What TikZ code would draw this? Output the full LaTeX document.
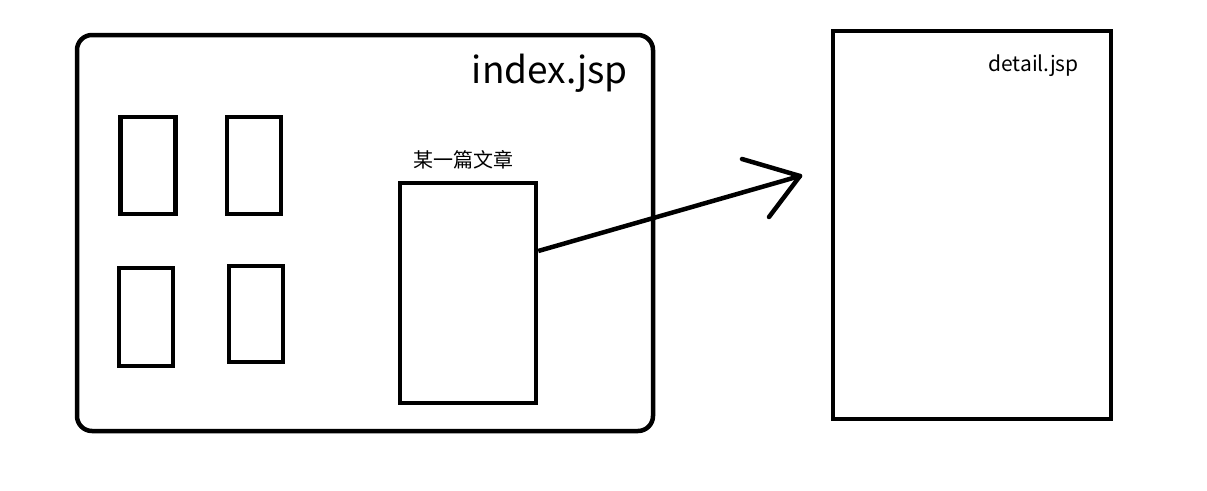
\documentclass[tikz,border=0pt]{standalone}
\usepackage{fontspec}
\setmainfont{Noto Sans CJK SC}
\usetikzlibrary{calc}
\begin{document}
\begin{tikzpicture}[x=1pt,y=-1pt,
  page/.style={draw=black,line width=4.5pt,inner sep=0pt},
  conn/.style={draw=black,line width=4.5pt,line cap=round,line join=round}]
\useasboundingbox[fill=white] (0,0) rectangle (1207,490);
% outer index page
\node[page,rounded corners=15pt,minimum width=576pt,minimum height=396pt] (index) at (365,233) {};
\node[anchor=base east,font=\fontsize{37}{40}\selectfont,inner sep=0pt] (indexlbl) at (628,83) {index.jsp};
% small boxes
\node[page,minimum width=55pt,minimum height=97pt] (b1) at (148,165.5) {};
\node[page,minimum width=54pt,minimum height=97pt] (b2) at (254,165.5) {};
\node[page,minimum width=54pt,minimum height=98pt] (b3) at (146,317) {};
\node[page,minimum width=54pt,minimum height=96pt] (b4) at (256,314) {};
% article box
\node[page,minimum width=136pt,minimum height=220pt] (art) at (468,293) {};
\node[anchor=base,font=\fontsize{20}{22}\selectfont,inner sep=0pt] (artlbl) at (463,167) {某一篇文章};
% detail page
\node[page,minimum width=278pt,minimum height=388pt] (detail) at (972,225) {};
\node[anchor=base east,font=\fontsize{21}{24}\selectfont,inner sep=0pt] (detaillbl) at (1079,71) {detail.jsp};
% arrow
\coordinate (tip) at (800,176);
\draw[conn,line cap=butt] (art.east |- 0,251) -- (tip);
\draw[conn] (tip) -- ++(-58,-17);
\draw[conn] (tip) -- ++(-31,41);
\end{tikzpicture}
\end{document}
